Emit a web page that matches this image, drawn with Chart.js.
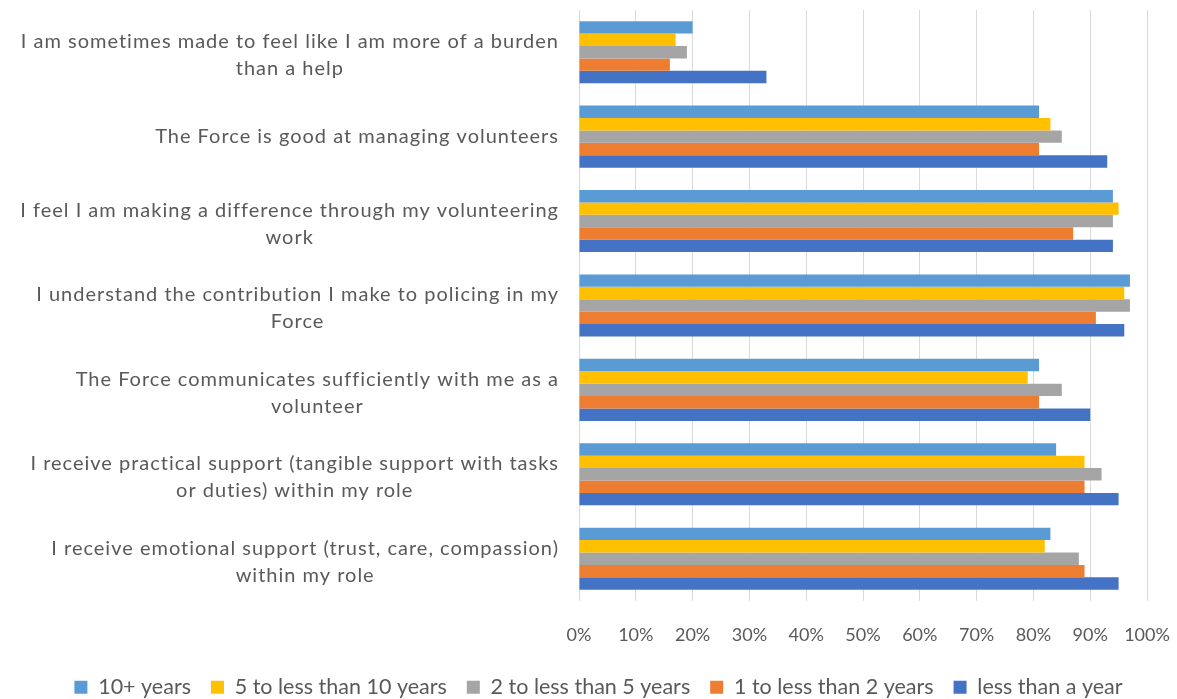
<!DOCTYPE html>
<html>
<head>
<meta charset="utf-8">
<script src="https://cdn.jsdelivr.net/npm/chart.js@4/dist/chart.umd.min.js"></script>
<style>
  html, body { margin: 0; padding: 0; background: #ffffff; }
  #wrap { width: 1177px; height: 699px; position: relative; }
</style>
</head>
<body>
<div id="wrap"><canvas id="chart"></canvas></div>
<script>
// Survey statements (each entry is the list of lines for its label)
const categories = [
  ["I am sometimes made to feel like I am more of a burden", "than a help"],
  ["The Force is good at managing volunteers"],
  ["I feel I am making a difference through my volunteering", "work"],
  ["I understand the contribution I make to policing in my", "Force"],
  ["The Force communicates sufficiently with me as a", "volunteer"],
  ["I receive practical support (tangible support with tasks", "or duties) within my role"],
  ["I receive emotional support (trust, care, compassion)", "within my role"]
];

// Share of volunteers agreeing (%), by length of service
const tenPlusYears     = [20, 81, 94, 97, 81, 84, 83];
const fiveToTenYears   = [17, 83, 95, 96, 79, 89, 82];
const twoToFiveYears   = [19, 85, 94, 97, 85, 92, 88];
const oneToTwoYears    = [16, 81, 87, 91, 81, 89, 89];
const lessThanAYear    = [33, 93, 94, 96, 90, 95, 95];

const seriesNames = [
  "10+ years",
  "5 to less than 10 years",
  "2 to less than 5 years",
  "1 to less than 2 years",
  "less than a year"
];

const xTicks = [0, 10, 20, 30, 40, 50, 60, 70, 80, 90, 100];

const seriesValues = [tenPlusYears, fiveToTenYears, twoToFiveYears, oneToTwoYears, lessThanAYear];
const seriesColors = ["#5B9BD5", "#FFC000", "#A5A5A5", "#ED7D31", "#4472C4"];

const LABEL_FONT = "20px Lato";
const TEXT_COLOR = "#595959";
const LETTER_SPACING = "1px";

// Slightly open letter spacing for all chart text.
const textSpacing = {
  id: "textSpacing",
  beforeInit(chart) { chart.ctx.letterSpacing = LETTER_SPACING; }
};

// Draws the statement labels: each block right-aligned against the axis,
// its lines centred on one another.
const statementLabels = {
  id: "statementLabels",
  afterDraw(chart) {
    const ctx = chart.ctx;
    const yScale = chart.scales.y;
    const rightEdge = chart.chartArea.left - 20;
    const lineGap = 27;
    ctx.save();
    ctx.letterSpacing = LETTER_SPACING;
    ctx.font = LABEL_FONT;
    ctx.fillStyle = TEXT_COLOR;
    ctx.textAlign = "center";
    ctx.textBaseline = "middle";
    categories.forEach((lines, i) => {
      const cy = yScale.getPixelForValue(i);
      const widest = Math.max(...lines.map(l => ctx.measureText(l).width));
      const cx = rightEdge - widest / 2;
      const startY = cy - (lines.length - 1) * lineGap / 2 + (lines.length > 1 ? 3 : 0);
      lines.forEach((line, k) => ctx.fillText(line, cx, startY + k * lineGap));
    });
    ctx.restore();
  }
};

new Chart(document.getElementById("chart"), {
  type: "bar",
  data: {
    labels: categories.map(l => l.join(" ")),
    datasets: seriesNames.map((name, i) => ({
      label: name,
      data: seriesValues[i],
      backgroundColor: seriesColors[i],
      borderWidth: 0,
      barPercentage: 1.0,
      categoryPercentage: 0.735
    }))
  },
  options: {
    indexAxis: "y",
    responsive: true,
    maintainAspectRatio: false,
    animation: false,
    layout: { padding: { left: 50, right: 30, top: 10, bottom: -9 } },
    scales: {
      x: {
        min: 0,
        max: 100,
        afterBuildTicks(scale) { scale.ticks = xTicks.map(v => ({ value: v })); },
        afterFit(scale) {
          scale.height -= 12;
          scale.paddingLeft = 0;
          scale.paddingRight = 0;
        },
        grid: { color: "#D9D9D9", lineWidth: 1, drawTicks: false },
        border: { display: false },
        ticks: {
          padding: 23,
          color: TEXT_COLOR,
          font: { family: "Lato", size: 18 },
          callback: v => v + "%"
        }
      },
      y: {
        grid: { display: false },
        border: { display: false },
        ticks: { display: false },
        afterFit(scale) { scale.width = 529; }
      }
    },
    plugins: {
      legend: {
        position: "bottom",
        labels: {
          boxWidth: 13,
          boxHeight: 13,
          padding: 20,
          color: TEXT_COLOR,
          font: { family: "Lato", size: 21.5 }
        }
      },
      tooltip: { enabled: false }
    }
  },
  plugins: [textSpacing, statementLabels]
});
</script>
</body>
</html>
